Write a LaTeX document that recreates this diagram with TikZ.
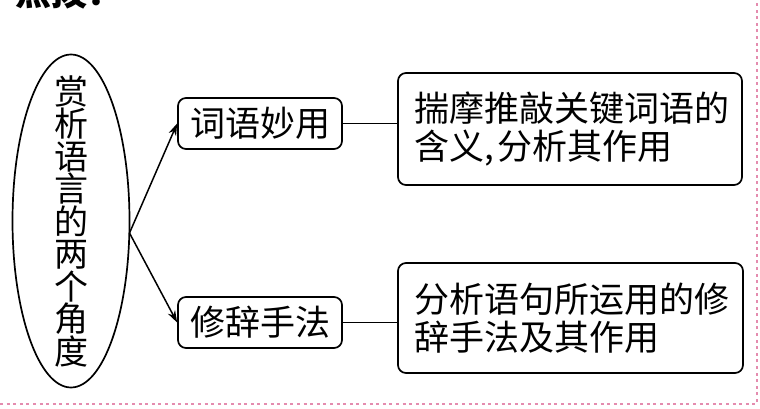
\documentclass[tikz,border=0pt]{standalone}
\usepackage{fontspec}
\newfontfamily\cjk{Noto Sans CJK SC}
\usetikzlibrary{shapes.geometric,arrows.meta}
\definecolor{pinkline}{RGB}{228,140,175}
\tikzset{
  box/.style={draw, line width=1.7pt, rounded corners=8pt, inner sep=0pt, font=\cjk\fontsize{35}{38}\selectfont},
  conn/.style={line width=1.5pt},
  arr/.style={line width=1.5pt, -{Stealth[length=12pt,width=8pt]}},
  border/.style={pinkline, line width=1.2pt, dash pattern=on 3pt off 3.6pt}
}
\begin{document}
\begin{tikzpicture}[x=1pt,y=-1pt]
\useasboundingbox (0,0) rectangle (760,409);
\clip (0,0) rectangle (760,409);
\fill[white] (0,0) rectangle (760,409);
% title (cut off at top in the reference)
\node[anchor=base west, inner sep=0pt, font=\cjk\bfseries\fontsize{36}{36}\selectfont] (title) at (15,6) {点拨：};
% pink border
\draw[border] (0,404) -- (757,404) -- (757,0);
% ellipse
\node[draw, ellipse, line width=1.7pt, minimum width=117pt, minimum height=333pt, inner sep=0pt] (e) at (71,221) {};
\node[inner sep=0pt, align=center, font=\cjk\fontsize{34}{32.5}\selectfont] (et) at (71,221)
  {赏\\析\\语\\言\\的\\两\\个\\角\\度};
\coordinate (j) at (129.5,233);
% boxes
\node[box, minimum width=164pt, minimum height=51pt] (b1) at (260,123.5) {词语妙用};
\node[box, minimum width=164pt, minimum height=51pt] (b2) at (260,322.5) {修辞手法};
\node[box, minimum width=344pt, minimum height=112pt, text width=316pt, align=left, inner xsep=14pt] (b3) at (570,129)
  {\hspace*{2pt}揣摩推敲关键词语的\\\hspace*{2pt}含义,\hspace{4pt}分析其作用};
\node[box, minimum width=345pt, minimum height=110pt, text width=316pt, align=left, inner xsep=14.5pt] (b4) at (570.5,318)
  {\hspace*{2pt}分析语句所运用的修\\\hspace*{2pt}辞手法及其作用};
% connectors
\draw[arr] (j) -- (b1.west);
\draw[arr] (j) -- (b2.west);
\draw[conn] (b1.east) -- (b1.east -| b3.west);
\draw[conn] (b2.east) -- (b2.east -| b4.west);
\end{tikzpicture}
\end{document}
